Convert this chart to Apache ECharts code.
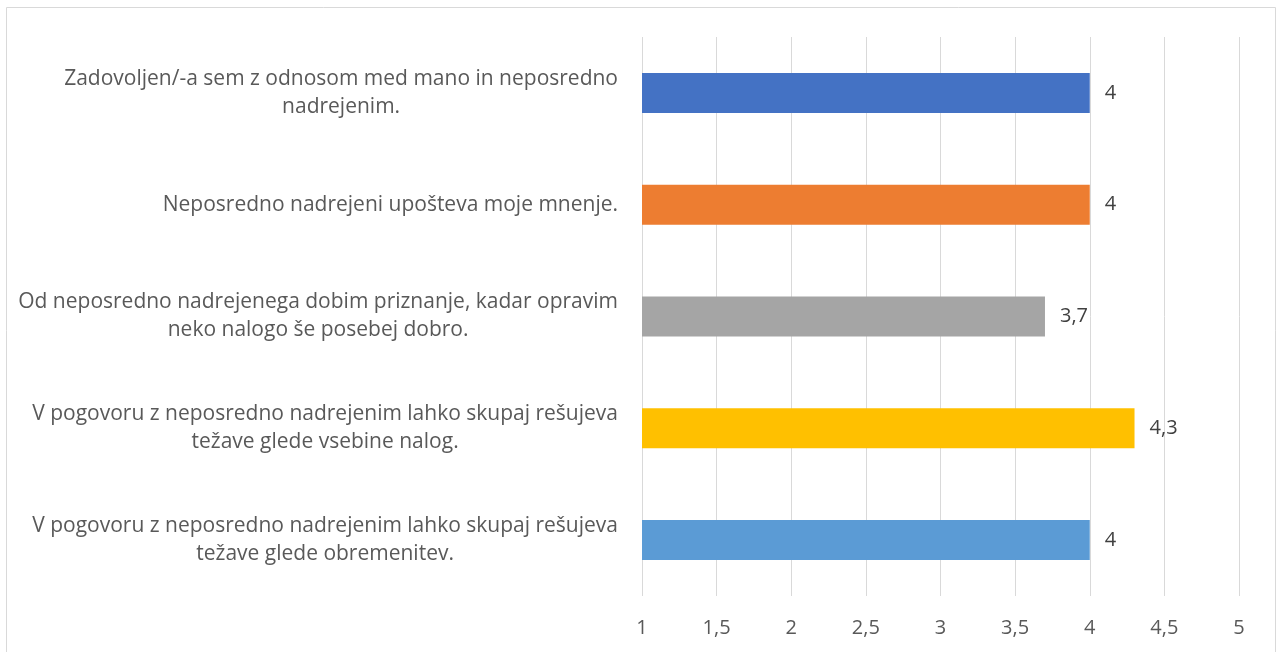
<!DOCTYPE html>
<html>
<head>
<meta charset="utf-8"/>
<script src="https://cdn.jsdelivr.net/npm/echarts@6/dist/echarts.min.js"></script>
<style>
  html, body { margin:0; padding:0; background:#fff; }
  #chart { width:1277px; height:652px; }
</style>
</head>
<body>
<div id="chart"></div>
<script>
// podatki
var trditve = [
  'Zadovoljen/-a sem z odnosom med mano in neposredno\nnadrejenim.',
  'Neposredno nadrejeni upošteva moje mnenje.',
  'Od neposredno nadrejenega dobim priznanje, kadar opravim\nneko nalogo še posebej dobro.',
  'V pogovoru z neposredno nadrejenim lahko skupaj rešujeva\ntežave glede vsebine nalog.',
  'V pogovoru z neposredno nadrejenim lahko skupaj rešujeva\ntežave glede obremenitev.'
];
var ocene = [4, 4, 3.7, 4.3, 4];
var barve = ['#4472C4', '#ED7D31', '#A5A5A5', '#FFC000', '#5B9BD5'];

var font = '"Open Sans", sans-serif';
var chart = echarts.init(document.getElementById('chart'));

chart.setOption({
  animation: false,
  grid: { left: 642, right: 38, top: 37, bottom: 56 },
  graphic: [{
    type: 'rect',
    shape: { x: 6.5, y: 7.5, width: 1269, height: 700 },
    style: { fill: 'none', stroke: '#d9d9d9', lineWidth: 1 },
    silent: true
  }],
  xAxis: {
    type: 'value',
    min: 1, max: 5, interval: 0.5,
    axisLine: { show: false },
    axisTick: { show: false },
    splitLine: { lineStyle: { color: '#d9d9d9', width: 1 } },
    axisLabel: {
      color: '#595959', fontFamily: font, fontSize: 20, margin: 22,
      formatter: function (v) { return String(v).replace('.', ','); }
    }
  },
  yAxis: {
    type: 'category',
    inverse: true,
    data: trditve,
    axisLine: { show: false },
    axisTick: { show: false },
    axisLabel: {
      margin: 24,
      align: 'right',
      lineHeight: 28,
      formatter: function (v) {
        return v.split('\n').map(function (l) { return '{c|' + l + '}'; }).join('\n');
      },
      rich: {
        c: { align: 'center', color: '#595959', fontFamily: font, fontSize: 21, lineHeight: 28 }
      }
    }
  },
  series: [{
    type: 'bar',
    barWidth: 40,
    data: ocene.map(function (v, i) {
      return { value: v, itemStyle: { color: barve[i] } };
    }),
    label: {
      show: true,
      position: 'right',
      distance: 15,
      color: '#404040',
      fontFamily: font,
      fontSize: 20,
      formatter: function (p) { return String(p.value).replace('.', ','); }
    }
  }]
});
</script>
</body>
</html>
